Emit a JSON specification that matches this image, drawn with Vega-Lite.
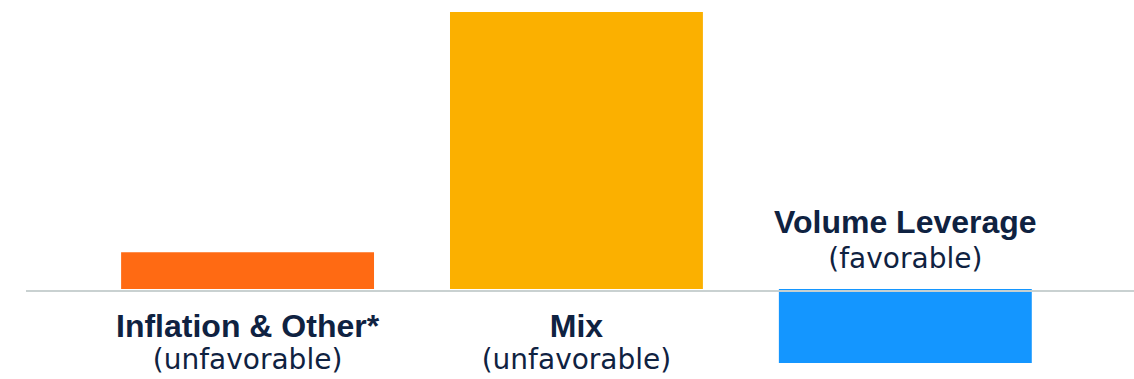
{
  "$schema": "https://vega.github.io/schema/vega-lite/v6.json",
  "autosize": {"type": "none"},
  "padding": {"left": 26, "top": 12, "right": 0, "bottom": 16},
  "width": 1108,
  "height": 351,
  "background": "white",
  "config": {"view": {"stroke": null}},
  "data": {
    "values": [
      {"category": "Inflation & Other*", "note": "(unfavorable)", "value": 0.5},
      {"category": "Mix", "note": "(unfavorable)", "value": 3.75},
      {"category": "Volume Leverage", "note": "(favorable)", "value": -1.0}
    ]
  },
  "encoding": {
    "x": {
      "field": "category",
      "type": "nominal",
      "sort": null,
      "scale": {"paddingInner": 0.231, "paddingOuter": 0.3, "align": 0.482},
      "axis": null
    }
  },
  "layer": [
    {
      "mark": {"type": "bar"},
      "encoding": {
        "y": {"field": "value", "type": "quantitative", "scale": {"domain": [-1, 3.75], "nice": false, "zero": true}, "axis": null},
        "color": {
          "field": "category",
          "type": "nominal",
          "scale": {"domain": ["Inflation & Other*", "Mix", "Volume Leverage"], "range": ["#FF6A13", "#FBB000", "#1496FF"]},
          "legend": null
        }
      }
    },
    {
      "mark": {"type": "rule", "color": "#C8D0D0", "strokeWidth": 1.5, "yOffset": 2},
      "encoding": {"y": {"datum": 0, "type": "quantitative"}, "x": null}
    },
    {
      "transform": [{"filter": "datum.value > 0"}],
      "mark": {"type": "text", "font": "Liberation Sans", "fontWeight": "bold", "fontSize": 32, "color": "#0F2241", "baseline": "alphabetic", "dy": 48},
      "encoding": {"y": {"datum": 0, "type": "quantitative"}, "text": {"field": "category"}}
    },
    {
      "transform": [{"filter": "datum.value > 0"}],
      "mark": {"type": "text", "font": "DejaVu Sans", "fontSize": 28, "color": "#0F2241", "baseline": "alphabetic", "dy": 80},
      "encoding": {"y": {"datum": 0, "type": "quantitative"}, "text": {"field": "note"}}
    },
    {
      "transform": [{"filter": "datum.value < 0"}],
      "mark": {"type": "text", "font": "Liberation Sans", "fontWeight": "bold", "fontSize": 32, "color": "#0F2241", "baseline": "alphabetic", "dy": -56},
      "encoding": {"y": {"datum": 0, "type": "quantitative"}, "text": {"field": "category"}}
    },
    {
      "transform": [{"filter": "datum.value < 0"}],
      "mark": {"type": "text", "font": "DejaVu Sans", "fontSize": 28, "color": "#0F2241", "baseline": "alphabetic", "dy": -21},
      "encoding": {"y": {"datum": 0, "type": "quantitative"}, "text": {"field": "note"}}
    }
  ]
}
